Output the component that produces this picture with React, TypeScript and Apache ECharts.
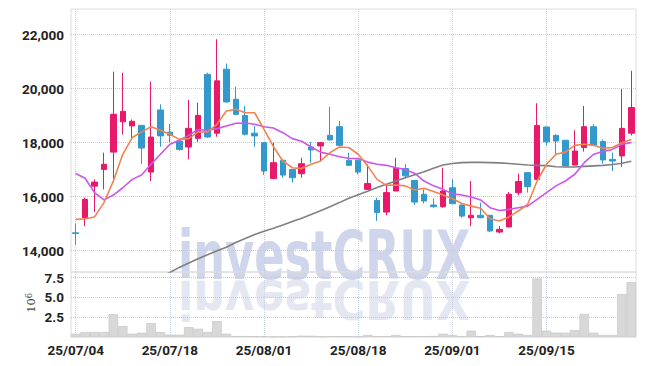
import React, { useEffect, useRef } from 'react';
import * as echarts from 'echarts';

const dates = ['25/07/04','25/07/07','25/07/08','25/07/09','25/07/10','25/07/11','25/07/14','25/07/15','25/07/16','25/07/17','25/07/18','25/07/21','25/07/22','25/07/23','25/07/24','25/07/25','25/07/28','25/07/29','25/07/30','25/07/31','25/08/01','25/08/04','25/08/05','25/08/06','25/08/07','25/08/08','25/08/11','25/08/12','25/08/13','25/08/14','25/08/18','25/08/19','25/08/20','25/08/21','25/08/22','25/08/25','25/08/26','25/08/27','25/08/28','25/08/29','25/09/01','25/09/02','25/09/03','25/09/04','25/09/05','25/09/08','25/09/09','25/09/10','25/09/11','25/09/12','25/09/15','25/09/16','25/09/17','25/09/18','25/09/19','25/09/22','25/09/23','25/09/24','25/09/25','25/09/26'];

const opens = [14660,15220,16390,17010,17650,18770,18620,18640,16910,19210,18390,18060,17840,18160,20530,18350,20720,19610,19010,18350,18000,16670,17350,17010,16850,17840,17880,18270,18590,17350,17350,16270,15860,15430,16210,17040,16600,16090,15690,15630,16330,15690,15220,15310,15310,14690,14880,16150,16890,16640,18580,18270,18090,17170,17820,18590,18040,17380,17510,18350];
const closes = [14640,15900,16540,17200,19050,19160,18790,17800,18210,18250,18270,17750,18530,19010,18210,20290,19510,19050,18310,18250,16950,17260,16800,16700,17220,17730,18000,18100,17900,17160,16910,16490,15410,16150,17050,16770,15800,15840,15630,16210,15740,15280,15310,15220,14730,14790,16090,16560,16370,18640,18030,18060,17140,17690,18590,17910,17360,17320,18530,19300];
const lows = [14220,14910,15430,16270,16520,18300,18120,17210,16580,17850,18000,17700,17380,18030,18180,18220,19480,19010,18270,17850,16800,16650,16700,16520,16700,17260,17320,18090,17890,17140,16830,16250,15100,15310,16200,16680,15690,15750,15590,15590,15720,15220,14910,15200,14690,14640,14860,16060,16150,16630,17910,17530,17110,17160,17670,17900,17220,16950,17100,18270];
const highs = [15000,15960,16640,17630,20630,20590,18860,18660,20260,19420,18700,18150,19580,19480,20590,21830,20930,20080,19360,18620,18010,18000,17360,17020,17440,18030,18030,19330,18800,17630,17360,17200,15960,16400,17440,17200,16620,16270,15930,17070,16640,15700,16580,15780,15320,14910,16170,16850,16900,19460,18590,18310,18100,18460,19360,18680,18120,17630,19980,20660];

const ma5 = [15160,15180,15250,15780,16580,17570,18190,18400,18590,18460,18310,18120,18150,18400,18400,18680,19170,19240,19110,19110,18490,17850,17320,17070,17040,17200,17320,17630,17840,17820,17570,17140,16640,16420,16430,16400,16250,16310,16190,16060,15930,15750,15650,15570,15180,15100,15250,15470,15720,16580,17200,17570,17650,17900,17940,17900,17790,17820,18000,18120];
const ma20 = [16860,16680,16150,15880,16060,16330,16640,16800,17200,17570,17940,18090,18270,18490,18460,18520,18620,18720,18730,18680,18590,18540,18370,18150,18050,17840,17650,17570,17480,17420,17410,17280,17200,17160,17070,17010,16860,16580,16400,16270,16110,16060,15990,15880,15590,15490,15530,15590,15650,15900,16150,16400,16580,16830,17260,17570,17670,17750,17940,18000];
const ma60 = [null,null,null,null,null,null,null,null,null,13030,13190,13380,13540,13700,13850,14000,14130,14300,14450,14600,14720,14830,14950,15080,15200,15340,15480,15630,15780,15940,16070,16200,16340,16460,16580,16700,16810,16920,17050,17170,17230,17260,17270,17270,17260,17250,17230,17200,17170,17160,17150,17110,17100,17100,17120,17140,17160,17190,17240,17310];

const volumes = [0.41,0.62,0.62,0.62,2.87,1.37,0.41,0.54,1.75,0.62,0.29,0.29,1.25,1.04,0.62,2.0,0.41,0.12,0.12,0.1,0.08,0.06,0.06,0.08,0.16,0.16,0.08,0.1,0.1,0.1,0.08,0.25,0.1,0.1,0.25,0.1,0.1,0.1,0.12,0.41,0.25,0.1,0.79,0.1,0.25,0.1,0.62,0.41,0.25,7.37,0.79,0.54,0.54,0.87,2.91,0.54,0.25,0.25,5.41,6.91];

const priceTicks = [14000, 16000, 18000, 20000, 22000];
const volumeTicks = [2.5, 5, 7.5];
const gridDates = ['25/07/04', '25/07/18', '25/08/01', '25/08/18', '25/09/01', '25/09/15'];

const FONT = 'Roboto, "Liberation Sans", sans-serif';
const WM_FONT = '"DejaVu Sans Condensed", "DejaVu Sans", sans-serif';
const UP = '#e8196a';
const DOWN = '#3399cc';

export default function App() {
  const ref = useRef<HTMLDivElement>(null);
  useEffect(() => {
    if (!ref.current) return;
    const chart = echarts.init(ref.current, undefined, { renderer: 'svg' });
    const candle = dates.map((_, i) => [opens[i], closes[i], lows[i], highs[i]]);
    const vLines = {
      z: 1,
      silent: true,
      symbol: 'none',
      label: { show: false },
      lineStyle: { type: 'dotted', color: '#c9cfe2', width: 1 },
      data: gridDates.map((d) => ({ xAxis: d })),
    };
    const labelStyle = { fontFamily: FONT, fontWeight: 'bold', fontSize: 13.5, color: '#222' };
    chart.setOption({
      animation: false,
      grid: [
        { left: 71, right: 9, top: 9, height: 263, show: true, borderColor: '#dcdcdc', borderWidth: 1 },
        { left: 71, right: 9, top: 272, height: 65, show: true, borderColor: '#dcdcdc', borderWidth: 1 },
      ],
      xAxis: [
        {
          type: 'category', gridIndex: 0, data: dates, boundaryGap: true,
          axisLine: { show: false }, axisTick: { show: false }, axisLabel: { show: false }, splitLine: { show: false },
        },
        {
          type: 'category', gridIndex: 1, data: dates, boundaryGap: true,
          axisLine: { show: false }, axisTick: { show: false }, splitLine: { show: false },
          axisLabel: { interval: (i: number) => i % 10 === 0, margin: 6, ...labelStyle },
        },
      ],
      yAxis: [
        {
          type: 'value', gridIndex: 0, min: 13210, max: 22950, scale: true,
          axisLine: { show: false },
          axisTick: { show: false, customValues: priceTicks },
          axisLabel: {
            customValues: priceTicks,
            formatter: (v: number) => v.toLocaleString('en-US'),
            margin: 7, ...labelStyle,
          },
          splitLine: { show: true, lineStyle: { type: 'dotted', color: '#c8c8d0' } },
        },
        {
          type: 'value', gridIndex: 1, min: 0, max: 8.2,
          axisLine: { show: false },
          axisTick: { show: false, customValues: volumeTicks },
          axisLabel: {
            customValues: volumeTicks,
            formatter: (v: number) => v.toFixed(1),
            margin: 7, ...labelStyle,
          },
          splitLine: { show: true, lineStyle: { type: 'dotted', color: '#c8c8d0' } },
        },
      ],
      graphic: [
        {
          type: 'text', z: -10, x: 178, y: 222, scaleX: 0.73,
          style: { text: 'investCRUX', font: 'bold 68px ' + WM_FONT, fill: '#cfd5ea', verticalAlign: 'top' },
        },
        {
          type: 'text', z: -10, x: 178, y: 326, scaleX: 0.73, scaleY: -0.78,
          style: { text: 'investCRUX', font: 'bold 68px ' + WM_FONT, fill: '#e4e7f1', verticalAlign: 'top' },
        },
        {
          type: 'text', x: 31, y: 305.5, rotation: Math.PI / 2,
          style: { text: '10', font: '11.5px "DejaVu Serif", serif', fill: '#444', align: 'center', verticalAlign: 'middle' },
        },
        {
          type: 'text', x: 29, y: 295.5, rotation: Math.PI / 2,
          style: { text: '6', font: '8.5px "DejaVu Serif", serif', fill: '#444', align: 'center', verticalAlign: 'middle' },
        },
      ],
      series: [
        {
          name: 'MA60', type: 'line', xAxisIndex: 0, yAxisIndex: 0, data: ma60,
          symbol: 'none', lineStyle: { color: '#808080', width: 1.6 }, markLine: vLines,
        },
        {
          name: 'K', type: 'candlestick', xAxisIndex: 0, yAxisIndex: 0, data: candle, barWidth: 6,
          itemStyle: { color: UP, color0: DOWN, borderColor: UP, borderColor0: DOWN, borderWidth: 1 },
        },
        {
          name: 'MA20', type: 'line', xAxisIndex: 0, yAxisIndex: 0, data: ma20,
          symbol: 'none', lineStyle: { color: '#cc55ee', width: 1.6 },
        },
        {
          name: 'MA5', type: 'line', xAxisIndex: 0, yAxisIndex: 0, data: ma5,
          symbol: 'none', lineStyle: { color: '#f08450', width: 1.6 },
        },
        {
          name: 'Volume', type: 'bar', xAxisIndex: 1, yAxisIndex: 1, data: volumes,
          barWidth: '100%',
          itemStyle: { color: '#d8d8d8', borderColor: '#c2c2c2', borderWidth: 0.6 },
          markLine: vLines,
        },
      ],
    });
    return () => chart.dispose();
  }, []);
  return <div ref={ref} style={{ position: 'absolute', left: 0, top: 0, width: 645, height: 366 }} />;
}
